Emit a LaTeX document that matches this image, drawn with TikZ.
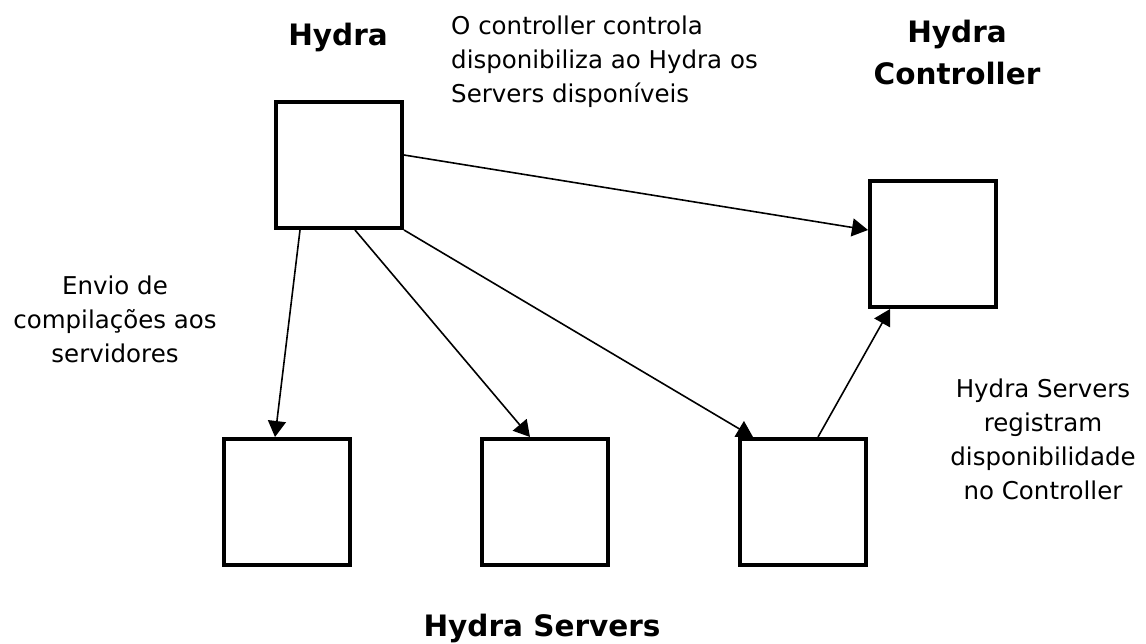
\documentclass[tikz,border=0pt]{standalone}
\usepackage{fontspec}
\setmainfont{DejaVu Sans}
\usetikzlibrary{arrows.meta,positioning,shapes}

\begin{document}
\begin{tikzpicture}[x=1pt,y=-1pt,
  unitbox/.style={draw,line width=4pt,minimum size=126pt,inner sep=0pt},
  ttl/.style={font=\bfseries\fontsize{29.5}{42}\selectfont,inner sep=0pt,align=center},
  lbl/.style={font=\fontsize{24.5}{34}\selectfont,inner sep=0pt},
  arr/.style={-{Triangle[length=16pt,width=18pt]},line width=1.6pt}]
\useasboundingbox (0,0) rectangle (1146,643);
% boxes
\node[unitbox] (hydra) at (339,165) {};
\node[unitbox] (ctrl) at (933,244) {};
\node[unitbox] (s1) at (287,502) {};
\node[unitbox] (s2) at (545,502) {};
\node[unitbox] (s3) at (803,502) {};
% titles
\node[ttl,anchor=base] (thydra) at (338,45) {Hydra};
\node[ttl,anchor=north] (tctrl) at (957,20) {Hydra\\Controller};
\node[ttl,anchor=base] (tsrv) at (542,636) {Hydra Servers};
% notes
\node[lbl,align=left,anchor=north west] (nctrl) at (451,16) {O controller controla\\disponibiliza ao Hydra os\\Servers disponíveis};
\node[lbl,align=center,anchor=north] (nsend) at (115,276) {Envio de\\compilações aos\\servidores};
\node[lbl,align=center,anchor=north] (nreg) at (1043,379) {Hydra Servers\\registram\\disponibilidade\\no Controller};
% arrows
\draw[arr] ([yshift=10pt]hydra.east) -- ([yshift=14pt]ctrl.west);
\draw[arr] ([xshift=-39pt]hydra.south) -- ([xshift=-12pt]s1.north);
\draw[arr] ([xshift=16pt]hydra.south) -- ([xshift=-15pt]s2.north);
\draw[arr] (hydra.south east) -- ([xshift=-50pt]s3.north);
\draw[arr] ([xshift=15pt]s3.north) -- ([xshift=-43pt]ctrl.south);
\end{tikzpicture}
\end{document}
